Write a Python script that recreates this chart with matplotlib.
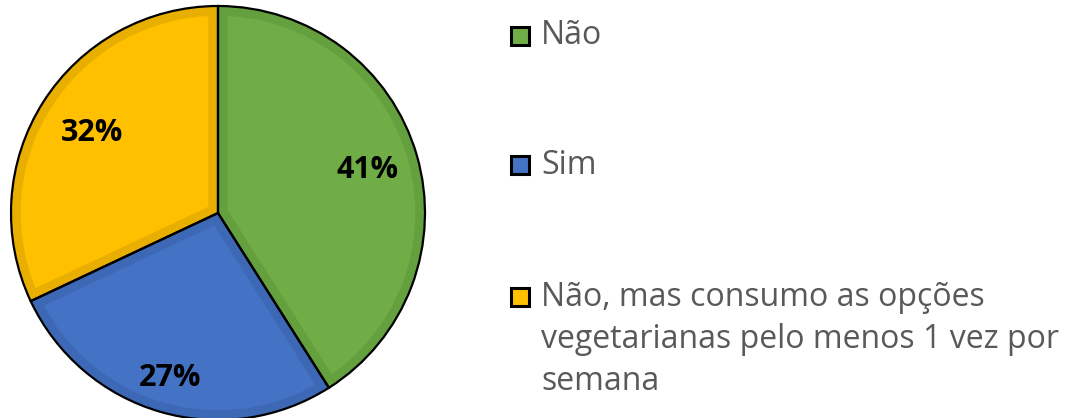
import matplotlib

matplotlib.use("Agg")
import matplotlib.pyplot as plt
from matplotlib.patches import Rectangle, Wedge
import numpy as np

labels = ["Não", "Sim", "Não, mas consumo as opções\nvegetarianas pelo menos 1 vez por\nsemana"]
values = [41, 27, 32]
colors = ["#70AD47", "#4472C4", "#FFC000"]
edge_colors = ["#65A03F", "#3D68B6", "#E9AF00"]
label_dist = [0.75, 0.83, 0.72]

W, H = 1076, 418
fig = plt.figure(figsize=(W / 100, H / 100), dpi=100)

cx, cy, r = 218, 213, 207
ax = fig.add_axes([(cx - r) / W, (H - cy - r) / H, 2 * r / W, 2 * r / H])

wedges, _ = ax.pie(values, colors=colors, startangle=90, counterclock=False,
                   radius=1, wedgeprops=dict(linewidth=0))
# darker inner bevel, clipped to each wedge
for w, ec in zip(wedges, edge_colors):
    clip = Wedge(w.center, w.r, w.theta1, w.theta2, transform=ax.transData)
    w.set_edgecolor(ec)
    w.set_linewidth(14)
    w.set_clip_on(True)
    w.set_clip_path(clip)
# black outline on top
ax.pie(values, startangle=90, counterclock=False, radius=1,
       wedgeprops=dict(facecolor="none", edgecolor="black", linewidth=1.6))
ax.set_xlim(-1, 1)
ax.set_ylim(-1, 1)
ax.axis("off")

total = sum(values)
start = 90
for v, d in zip(values, label_dist):
    mid = np.deg2rad(start - 360 * v / total / 2)
    ax.text(d * np.cos(mid), d * np.sin(mid), f"{v}%", ha="center", va="center",
            fontsize=22, fontweight="bold", color="black", family="Open Sans")
    start -= 360 * v / total

# legend
ys = [36, 165, 297]
for lab, c, y in zip(labels, colors, ys):
    fig.patches.append(Rectangle((511 / W, (H - y - 9) / H), 18 / W, 18 / H,
                                 transform=fig.transFigure, facecolor=c,
                                 edgecolor="black", linewidth=2.2))
    for i, line in enumerate(lab.split("\n")):
        fig.text(541 / W, (H - y - 42 * i) / H, line, ha="left", va="center",
                 fontsize=23, color="#595959", family="Open Sans")

fig.savefig("out.png", dpi=100)
